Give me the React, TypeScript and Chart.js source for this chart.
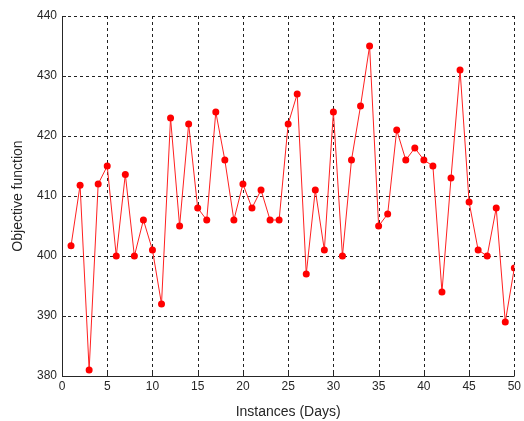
import React, { useEffect, useRef } from "react";
import { Chart, registerables } from "chart.js";

Chart.register(...registerables);

const days: number[] = Array.from({ length: 50 }, (_, i) => i + 1);
const objective: number[] = [
  401.7, 411.8, 381, 412, 415, 400, 413.6, 400, 406, 401,
  392, 423, 405, 422, 408, 406, 424, 416, 406, 412,
  408, 411, 406, 406, 422, 427, 397, 411, 401, 424,
  400, 416, 425, 435, 405, 407, 421, 416, 418, 416,
  415, 394, 413, 431, 409, 401, 400, 408, 389, 398,
];
const xTitle = "Instances (Days)";
const yTitle = "Objective function";

const gridPlugin = {
  id: "matlabGrid",
  beforeDatasetsDraw(chart: any) {
    const { ctx, chartArea: a, scales } = chart;
    ctx.save();
    ctx.strokeStyle = "#222";
    ctx.lineWidth = 1;
    ctx.setLineDash([3, 3]);
    ctx.beginPath();
    scales.x.ticks.forEach((t: any) => {
      const px = Math.round(scales.x.getPixelForValue(t.value)) + 0.5;
      ctx.moveTo(px, a.top);
      ctx.lineTo(px, a.bottom);
    });
    scales.y.ticks.forEach((t: any) => {
      const py = Math.round(scales.y.getPixelForValue(t.value)) + 0.5;
      ctx.moveTo(a.left, py);
      ctx.lineTo(a.right, py);
    });
    ctx.stroke();
    ctx.setLineDash([]);
    ctx.strokeStyle = "#262626";
    ctx.beginPath();
    ctx.moveTo(a.left + 0.5, a.top);
    ctx.lineTo(a.left + 0.5, a.bottom + 0.5);
    ctx.lineTo(a.right, a.bottom + 0.5);
    scales.x.ticks.forEach((t: any) => {
      const px = Math.round(scales.x.getPixelForValue(t.value)) + 0.5;
      ctx.moveTo(px, a.bottom);
      ctx.lineTo(px, a.bottom - 4);
    });
    scales.y.ticks.forEach((t: any) => {
      const py = Math.round(scales.y.getPixelForValue(t.value)) + 0.5;
      ctx.moveTo(a.left, py);
      ctx.lineTo(a.left + 4, py);
    });
    ctx.stroke();
    ctx.restore();
  },
};

export default function App() {
  const ref = useRef<HTMLCanvasElement>(null);
  useEffect(() => {
    if (!ref.current) return;
    const chart = new Chart(ref.current, {
      type: "line",
      data: {
        datasets: [
          {
            data: days.map((d, i) => ({ x: d, y: objective[i] })),
            borderColor: "#ff2020",
            backgroundColor: "#ff0000",
            borderWidth: 1,
            pointRadius: 3.5,
            pointBorderWidth: 0,
            pointBackgroundColor: "#ff0000",
            tension: 0,
          },
        ],
      },
      plugins: [gridPlugin],
      options: {
        animation: false,
        responsive: false,
        maintainAspectRatio: false,
        layout: { padding: { top: 16, right: 6, left: 10, bottom: 0 } },
        plugins: { legend: { display: false }, tooltip: { enabled: false } },
        scales: {
          x: {
            type: "linear",
            min: 0,
            max: 50,
            ticks: {
              stepSize: 5,
              color: "#262626",
              font: { family: "Liberation Sans, Arial", size: 12 },
              padding: 3,
              maxRotation: 0,
            },
            grid: { display: false, drawTicks: false, tickLength: 0 },
            border: { display: false },
            title: {
              display: true,
              text: xTitle,
              color: "#262626",
              font: { family: "Liberation Sans, Arial", size: 14 },
              padding: { top: 1, bottom: 0 },
            },
            afterFit(scale: any) {
              scale.height = 45;
            },
          },
          y: {
            min: 380,
            max: 440,
            ticks: {
              stepSize: 10,
              color: "#262626",
              font: { family: "Liberation Sans, Arial", size: 12 },
              padding: 5,
            },
            grid: { display: false, drawTicks: false, tickLength: 0 },
            border: { display: false },
            title: {
              display: true,
              text: yTitle,
              color: "#262626",
              font: { family: "Liberation Sans, Arial", size: 14 },
              padding: { top: 0, bottom: 4 },
            },
            afterFit(scale: any) {
              scale.width = 52;
            },
          },
        },
      } as any,
    });
    return () => chart.destroy();
  }, []);
  return (
    <div style={{ position: "fixed", left: 0, top: 0, width: 524, height: 421, background: "#fff" }}>
      <canvas ref={ref} width={524} height={421} style={{ width: 524, height: 421 }} />
    </div>
  );
}
